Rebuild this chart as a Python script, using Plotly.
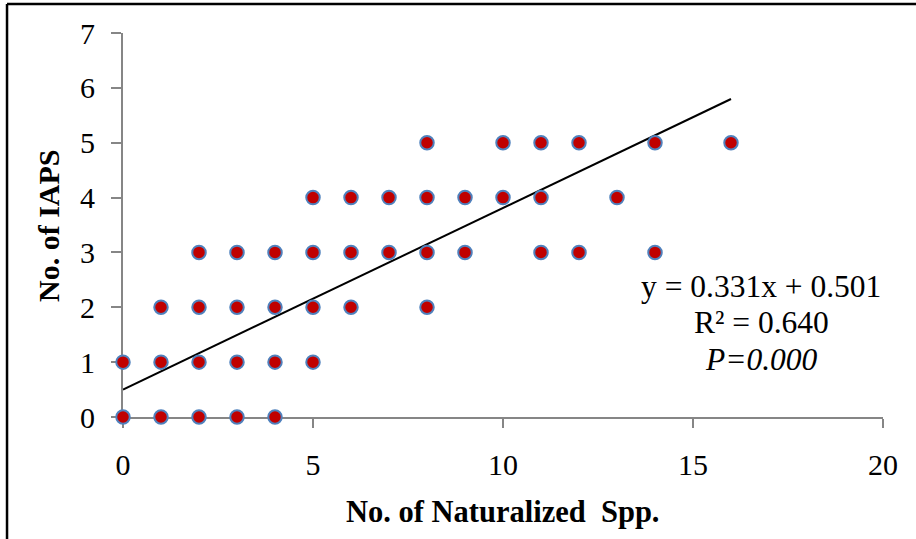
import plotly.graph_objects as go

# Observations: number of naturalized species vs number of IAPS
naturalized_spp = [0, 1, 2, 3, 4,
                   0, 1, 2, 3, 4, 5,
                   1, 2, 3, 4, 5, 6, 8,
                   2, 3, 4, 5, 6, 7, 8, 9, 11, 12, 14,
                   5, 6, 7, 8, 9, 10, 11, 13,
                   8, 10, 11, 12, 14, 16]
iaps_count = [0, 0, 0, 0, 0,
              1, 1, 1, 1, 1, 1,
              2, 2, 2, 2, 2, 2, 2,
              3, 3, 3, 3, 3, 3, 3, 3, 3, 3, 3,
              4, 4, 4, 4, 4, 4, 4, 4,
              5, 5, 5, 5, 5, 5]

# Linear fit reported on the chart
slope = 0.331
intercept = 0.501
r_squared = 0.640
p_value = "0.000"
fit_x = [0, 16]
fit_y = [slope * v + intercept for v in fit_x]

x_ticks = [0, 5, 10, 15, 20]
y_ticks = [0, 1, 2, 3, 4, 5, 6, 7]

FONT = "Liberation Serif"
AXIS_GREY = "#868686"

fig = go.Figure()

fig.add_trace(go.Scatter(
    x=fit_x, y=fit_y, mode="lines",
    line=dict(color="black", width=2),
    showlegend=False, hoverinfo="skip", cliponaxis=False,
))

fig.add_trace(go.Scatter(
    x=naturalized_spp, y=iaps_count, mode="markers",
    marker=dict(size=13.5, color="#C00000", line=dict(color="#4F81BD", width=2)),
    showlegend=False, cliponaxis=False,
))

fig.update_xaxes(
    range=[0, 20], tickvals=x_ticks, showgrid=False, zeroline=False,
    showline=True, linecolor=AXIS_GREY, linewidth=2,
    ticks="outside", ticklen=9, tickwidth=2, tickcolor=AXIS_GREY,
    tickfont=dict(family=FONT, size=30, color="black"),
    ticklabelstandoff=11, layer="below traces",
)
fig.update_yaxes(
    range=[0, 7], tickvals=y_ticks, showgrid=False, zeroline=False,
    showline=True, linecolor=AXIS_GREY, linewidth=2,
    ticks="outside", ticklen=10, tickwidth=2, tickcolor=AXIS_GREY,
    tickfont=dict(family=FONT, size=30, color="black"),
    ticklabelstandoff=10, layer="below traces",
)

annotations = [
    dict(text="<b>No. of Naturalized  Spp.</b>", x=0.5, y=-0.247,
         xref="paper", yref="paper", xanchor="center", yanchor="middle",
         showarrow=False, font=dict(family=FONT, size=30.5, color="black")),
    dict(text="<b>No. of IAPS</b>", x=-0.0987, y=0.5, textangle=-90,
         xref="paper", yref="paper", xanchor="center", yanchor="middle",
         showarrow=False, font=dict(family=FONT, size=30, color="black")),
    dict(text=f"y = {slope:.3f}x + {intercept:.3f}", x=16.8, y=2.37,
         xanchor="center", yanchor="middle", showarrow=False,
         font=dict(family=FONT, size=31.5, color="black")),
    dict(text=f"R² = {r_squared:.3f}", x=16.8, y=1.73,
         xanchor="center", yanchor="middle", showarrow=False,
         font=dict(family=FONT, size=31.5, color="black")),
    dict(text=f"<i>P={p_value}</i>", x=16.8, y=1.04,
         xanchor="center", yanchor="middle", showarrow=False,
         font=dict(family=FONT, size=31.5, color="black")),
]

# Chart frame (left and top edges)
shapes = [
    dict(type="line", xref="paper", yref="paper",
         x0=-0.1526, x1=1.2, y0=1.0755, y1=1.0755,
         line=dict(color="black", width=2.5)),
    dict(type="line", xref="paper", yref="paper",
         x0=-0.1526, x1=-0.1526, y0=1.0755, y1=-0.4,
         line=dict(color="black", width=2.5)),
]

fig.update_layout(
    width=916, height=539,
    margin=dict(l=123, r=33, t=33, b=122),
    plot_bgcolor="white", paper_bgcolor="white",
    annotations=annotations, shapes=shapes,
    showlegend=False,
)

fig.write_html("out.html")
